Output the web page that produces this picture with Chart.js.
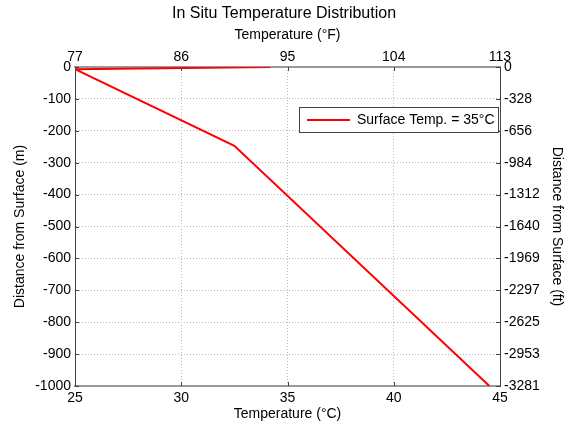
<!DOCTYPE html>
<html>
<head>
<meta charset="utf-8">
<script src="https://cdn.jsdelivr.net/npm/chart.js@4/dist/chart.umd.min.js"></script>
<style>
  html, body { margin: 0; padding: 0; background: #fff; }
  #wrap { width: 568px; height: 429px; }
</style>
</head>
<body>
<div id="wrap"><canvas id="c" width="568" height="429"></canvas></div>
<script>
// ---- data ----
const tempC = [34.2, 25, 32.5, 44.5];          // temperature (°C)
const depthM = [0, -7, -247, -1000];           // depth (m)
const seriesLabel = 'Surface Temp. = 35\u00B0C';

// ---- tick labels ----
const celsiusTicks = [25, 30, 35, 40, 45];
const fahrenheitLabels = ['77', '86', '95', '104', '113'];
const depthTicks = [0, -100, -200, -300, -400, -500, -600, -700, -800, -900, -1000];
const feetLabels = ['0', '-328', '-656', '-984', '-1312', '-1640', '-1969', '-2297', '-2625', '-2953', '-3281'];

const FONT = '"Liberation Sans", Arial, Helvetica, sans-serif';
const points = tempC.map((t, i) => ({ x: t, y: depthM[i] }));

// inward tick marks (MATLAB style), placed through the chart's own scales
const innerTicks = {
  id: 'innerTicks',
  afterDatasetsDraw(chart) {
    const ctx = chart.ctx;
    const a = chart.chartArea;
    const L = 4;
    ctx.save();
    ctx.strokeStyle = '#444444';
    ctx.lineWidth = 1;
    ctx.beginPath();
    chart.scales.x.ticks.forEach(t => {
      const px = Math.round(chart.scales.x.getPixelForValue(t.value)) + 0.5;
      ctx.moveTo(px, a.bottom); ctx.lineTo(px, a.bottom - L);
      ctx.moveTo(px, a.top); ctx.lineTo(px, a.top + L);
    });
    chart.scales.y.ticks.forEach(t => {
      const py = Math.round(chart.scales.y.getPixelForValue(t.value)) + 0.5;
      ctx.moveTo(a.left, py); ctx.lineTo(a.left + L, py);
      ctx.moveTo(a.right, py); ctx.lineTo(a.right - L, py);
    });
    ctx.stroke();
    ctx.restore();
  }
};

const legendBox = {
  id: 'legendBox',
  afterDraw(chart) {
    const ctx = chart.ctx;
    const ds = chart.data.datasets[0];
    const x0 = 299, y0 = 107, w = 199, h = 25;
    ctx.save();
    ctx.fillStyle = '#ffffff';
    ctx.fillRect(x0, y0, w, h);
    ctx.strokeStyle = '#444444';
    ctx.lineWidth = 1;
    ctx.strokeRect(x0 + 0.5, y0 + 0.5, w, h);
    ctx.strokeStyle = ds.borderColor;
    ctx.lineWidth = 2;
    ctx.beginPath();
    ctx.moveTo(307, y0 + h / 2 + 0.5);
    ctx.lineTo(350, y0 + h / 2 + 0.5);
    ctx.stroke();
    ctx.fillStyle = '#000';
    ctx.font = '14px ' + FONT;
    ctx.textBaseline = 'middle';
    ctx.textAlign = 'left';
    ctx.fillText(ds.label, 357, y0 + h / 2 + 1);
    ctx.restore();
  }
};

const tickFont = { family: FONT, size: 14 };
const titleFont = { family: FONT, size: 14 };

new Chart(document.getElementById('c'), {
  type: 'scatter',
  data: {
    datasets: [{
      label: seriesLabel,
      data: points,
      showLine: true,
      borderColor: '#ff0000',
      backgroundColor: '#ff0000',
      borderWidth: 2,
      pointRadius: 0,
      xAxisID: 'x',
      yAxisID: 'y'
    }]
  },
  options: {
    responsive: false,
    animation: false,
    layout: { padding: 0 },
    plugins: {
      legend: { display: false },
      tooltip: { enabled: false },
      title: {
        display: true,
        text: 'In Situ Temperature Distribution',
        color: '#000',
        font: { family: FONT, size: 16, weight: 'normal' },
        padding: { top: 4, bottom: 0 }
      }
    },
    scales: {
      x: {
        type: 'linear', position: 'bottom', min: 25, max: 45,
        afterBuildTicks: s => { s.ticks = celsiusTicks.map(v => ({ value: v })); },
        afterFit: s => { s.height = 43; },
        ticks: { font: tickFont, color: '#000', padding: 4, maxRotation: 0, autoSkip: false,
                 callback: v => String(v) },
        grid: { color: '#b8b8b8', lineWidth: 1, drawTicks: false },
        border: { display: true, color: '#999999', width: 2, dash: [1, 2] },
        title: { display: true, text: 'Temperature (\u00B0C)', color: '#000', font: titleFont,
                 padding: { top: 0, bottom: 6.6 } }
      },
      x2: {
        type: 'linear', position: 'top', min: 25, max: 45,
        afterBuildTicks: s => { s.ticks = celsiusTicks.map(v => ({ value: v })); },
        afterFit: s => { s.height = 43.8; },
        ticks: { font: tickFont, color: '#000', padding: 1, maxRotation: 0, autoSkip: false,
                 callback: (v, i) => fahrenheitLabels[i] },
        grid: { display: false, drawTicks: false },
        border: { display: true, color: '#999999', width: 2 },
        title: { display: true, text: 'Temperature (\u00B0F)', color: '#000', font: titleFont,
                 padding: { top: 3.4, bottom: 0 } }
      },
      y: {
        type: 'linear', position: 'left', min: -1000, max: 0,
        afterBuildTicks: s => { s.ticks = depthTicks.map(v => ({ value: v })); },
        afterFit: s => { s.width = 75; },
        ticks: { font: tickFont, color: '#000', padding: 4, autoSkip: false,
                 callback: v => String(v) },
        grid: { color: '#b8b8b8', lineWidth: 1, drawTicks: false },
        border: { display: true, color: '#444444', width: 1, dash: [1, 2] },
        title: { display: true, text: 'Distance from Surface (m)', color: '#000', font: titleFont,
                 padding: { top: 11.6, bottom: 0 } }
      },
      y2: {
        type: 'linear', position: 'right', min: -1000, max: 0,
        afterBuildTicks: s => { s.ticks = depthTicks.map(v => ({ value: v })); },
        afterFit: s => { s.width = 68; },
        ticks: { font: tickFont, color: '#000', padding: 4, autoSkip: false,
                 callback: (v, i) => feetLabels[i] },
        grid: { display: false, drawTicks: false },
        border: { display: true, color: '#444444', width: 1 },
        title: { display: true, text: 'Distance from Surface (ft)', color: '#000', font: titleFont,
                 padding: { top: 2.6, bottom: 0 } }
      }
    }
  },
  plugins: [innerTicks, legendBox]
});
</script>
</body>
</html>
